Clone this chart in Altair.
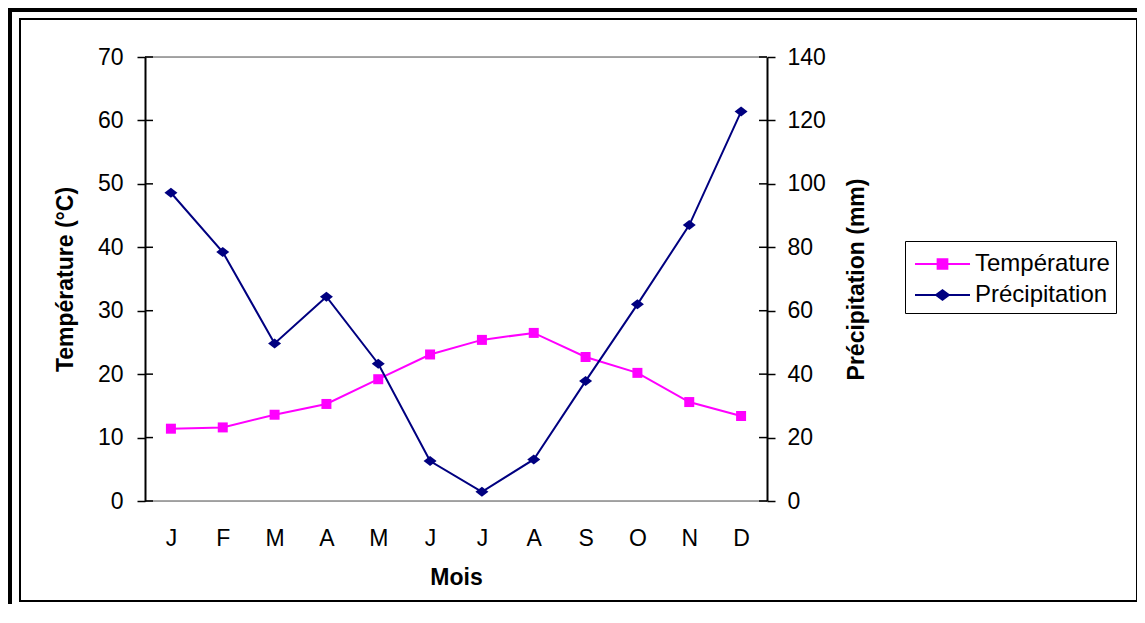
import json
import altair as alt
import pandas as pd

months = ["J", "F", "M", "A", "M", "J", "J", "A", "S", "O", "N", "D"]
month_index = list(range(1, 13))
temperature = [11.4, 11.6, 13.6, 15.3, 19.2, 23.1, 25.4, 26.5, 22.7, 20.2, 15.6, 13.4]
precipitation = [97.2, 78.5, 49.7, 64.4, 43.3, 12.6, 2.9, 13.1, 37.8, 62.0, 87.0, 122.8]
temp_ticks = [0, 10, 20, 30, 40, 50, 60, 70]
precip_ticks = [0, 20, 40, 60, 80, 100, 120, 140]
series_names = ["Température", "Précipitation"]
series_colors = ["#FF00FF", "#000080"]

FONT = "Liberation Sans"
FS = 23

df_t = pd.DataFrame({"m": month_index, "temp": temperature})
df_p = pd.DataFrame({"m": month_index, "prec": precipitation})
df_tt = pd.DataFrame({"temp": temp_ticks})
df_pt = pd.DataFrame({"prec": precip_ticks})
df_leg = pd.DataFrame({"serie": series_names})

sq_path = "M-1,-1H1V1H-1Z"
dia_path = "M-1.3,0L0,-1L1.3,0L0,1Z"
leg_sq = "M-1.72,0H1.72M-0.31,-0.31H0.31V0.31H-0.31Z"
leg_dia = "M-1.72,0H1.72M-0.41,0L0,-0.31L0.41,0L0,0.31Z"

color_scale = alt.Scale(domain=series_names, range=series_colors)
leg_shape_scale = alt.Scale(domain=series_names, range=[leg_sq, leg_dia])

x_enc = alt.X(
    "m:Q",
    scale=alt.Scale(domain=[0.5, 12.5], nice=False, zero=False),
    axis=alt.Axis(
        values=month_index,
        labelExpr=json.dumps(months) + "[datum.value - 1]",
        ticks=False, domain=False, grid=False,
        labelFontSize=FS, labelFont=FONT, labelColor="black", labelPadding=26,
        title="Mois", titleFont=FONT, titleFontSize=FS, titleFontWeight="bold",
        titleColor="black", titlePadding=16, zindex=1,
    ),
)

legend = alt.Legend(
    title=None, orient="none", legendX=760, legendY=184,
    strokeColor="black", fillColor="white", padding=6,
    labelFont=FONT, labelFontSize=24, labelColor="black",
    symbolOffset=14.5, labelOffset=15.5, symbolOpacity=1,
    symbolStrokeWidth=1.8, symbolSize=1024, zindex=2,
)

left_axis = alt.Axis(
    orient="left", values=temp_ticks, grid=False,
    tickSize=8, tickColor="black", tickWidth=1.5,
    domainColor="black", domainWidth=2,
    labelFont=FONT, labelFontSize=FS, labelColor="black", labelPadding=14,
    title="Température (°C)", titleFont=FONT, titleFontSize=FS,
    titleFontWeight="bold", titleColor="black", titleAngle=270,
    titleBaseline="alphabetic", titleX=-73, zindex=1,
)
right_axis = alt.Axis(
    orient="right", values=precip_ticks, grid=False,
    tickSize=8, tickColor="black", tickWidth=1.5,
    domainColor="black", domainWidth=2,
    labelFont=FONT, labelFontSize=FS, labelColor="black", labelPadding=12,
    title="Précipitation (mm)", titleFont=FONT, titleFontSize=FS,
    titleFontWeight="bold", titleColor="black", titleAngle=270,
    titleBaseline="alphabetic", titleX=96, zindex=1,
)
y_left = alt.Y("temp:Q", scale=alt.Scale(domain=[0, 70], nice=False), axis=left_axis)
y_right = alt.Y("prec:Q", scale=alt.Scale(domain=[0, 140], nice=False), axis=right_axis)

t_line = alt.Chart(df_t).mark_line(strokeWidth=2, color=series_colors[0]).encode(x=x_enc, y=y_left)
t_pts = alt.Chart(df_t).mark_point(
    filled=True, size=100, opacity=1, shape=sq_path, color=series_colors[0]
).encode(x=x_enc, y=y_left)
t_inner = alt.Chart(df_tt).mark_rule(color="black", strokeWidth=1.5).encode(
    y=y_left, x=alt.value(0), x2=alt.value(8),
)
left = alt.layer(t_line, t_pts, t_inner)

p_line = alt.Chart(df_p).mark_line(strokeWidth=2, color=series_colors[1]).encode(x=x_enc, y=y_right)
p_pts = alt.Chart(df_p).mark_point(
    filled=True, size=100, opacity=1, shape=dia_path, color=series_colors[1]
).encode(x=x_enc, y=y_right)
p_inner = alt.Chart(df_pt).mark_rule(color="black", strokeWidth=1.5).encode(
    y=y_right, x=alt.value(614), x2=alt.value(622),
)
right = alt.layer(p_line, p_pts, p_inner)

leg_layer = alt.Chart(df_leg).mark_point(opacity=0, size=1024, strokeWidth=1.8).encode(
    x=alt.value(0), y=alt.value(0),
    fill=alt.Fill("serie:N", scale=color_scale, legend=legend),
    stroke=alt.Stroke("serie:N", scale=color_scale, legend=legend),
    shape=alt.Shape("serie:N", scale=leg_shape_scale, legend=legend),
)

frame_data = alt.Data(values=[{"k": 1}])
outer = alt.Chart(frame_data).mark_rect(fill="transparent", stroke="black", strokeWidth=4).encode(
    x=alt.value(-135), x2=alt.value(1200), y=alt.value(-47), y2=alt.value(800),
)
inner = alt.Chart(frame_data).mark_rect(fill="transparent", stroke="black", strokeWidth=2).encode(
    x=alt.value(-125), x2=alt.value(992), y=alt.value(-38), y2=alt.value(544),
)
top_border = alt.Chart(frame_data).mark_rule(color="#8a8a8a", strokeWidth=1.5).encode(
    x=alt.value(0), x2=alt.value(622), y=alt.value(0),
)
bottom_border = alt.Chart(frame_data).mark_rule(color="#8a8a8a", strokeWidth=1.5).encode(
    x=alt.value(0), x2=alt.value(622), y=alt.value(444),
)

chart = alt.layer(outer, inner, top_border, bottom_border, left, right, leg_layer).resolve_scale(
    y="independent"
).properties(
    width=622, height=444,
    autosize=alt.AutoSizeParams(type="none"),
    padding={"left": 137, "top": 49, "right": 370, "bottom": 103},
).configure_view(
    stroke="#808080", strokeWidth=1.5
).configure(background="white")

chart.save("out.html", embed_options={"renderer": "svg", "actions": False})
